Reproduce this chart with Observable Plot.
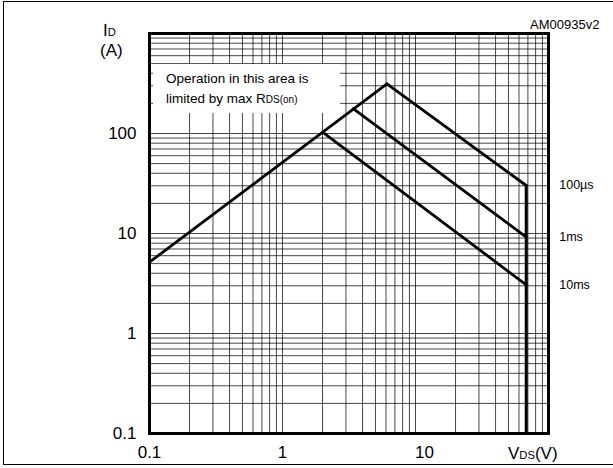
<!DOCTYPE html>
<html><head><meta charset="utf-8">
<script src="https://cdn.jsdelivr.net/npm/d3@7"></script>
<script src="https://cdn.jsdelivr.net/npm/@observablehq/plot@0.6"></script>
<style>
body{margin:0;background:#fff;font-family:"Liberation Sans",Arial,sans-serif;}
#wrap{position:relative;width:613px;height:468px;overflow:hidden;background:#fff;}
#chart{position:absolute;left:0;top:0;}
#border{position:absolute;left:3px;top:1px;width:660px;height:464px;border:1.5px solid #000;box-sizing:border-box;pointer-events:none;}
.lbl{position:absolute;color:#000;white-space:nowrap;line-height:1;}
.sm{font-size:0.66em;}
#note{position:absolute;left:153px;top:64px;width:187px;height:49px;background:#fff;font-size:13.5px;line-height:20px;padding:5px 0 0 13px;box-sizing:border-box;white-space:nowrap;}
</style></head><body>
<div id="wrap">
  <div id="chart"></div>
  <div id="note">Operation in this area is<br>limited by max R<span style="font-size:10px">DS(on)</span></div>
  <div class="lbl" style="left:103px;top:22px;font-size:17px">I<span class="sm">D</span></div>
  <div class="lbl" style="left:100px;top:42px;font-size:17px">(A)</div>
  <div class="lbl" style="left:530px;top:18px;font-size:13px">AM00935v2</div>
  <div class="lbl" style="left:508px;top:445px;font-size:17px">V<span class="sm">DS</span>(V)</div>
  <div id="border"></div>
</div>
<script>
// Safe operating area data
const seriesNames = ["100µs", "1ms", "10ms"];
const peakVds = [6.1, 3.4, 2.0];      // V, corner where RDS(on) limit meets power limit
const peakId = [314, 177, 103];       // A
const vdss = 68;                      // V, breakdown limit (vertical line)
const endId = [30.2, 9.2, 3.07];      // A at vdss
const limitVds = [0.1, 6.1];          // RDS(on) limit line
const limitId = [5.17, 314];
const vdssLineId = [30.2, 0.1];

const yTickValues = [0.1, 1, 10, 100];
const yTickLabels = ["0.1", "1", "10", "100"];
const xTickValues = [0.1, 1, 10];
const xTickLabels = ["0.1", "1", "10"];

// log grid (1..9 per decade)
const xGrid = [], yGrid = [];
for (let e = -1; e <= 1; e++) for (let m = 1; m <= 9; m++) xGrid.push(+(m * 10 ** e).toPrecision(3));
xGrid.push(100);
for (let e = -1; e <= 2; e++) for (let m = 1; m <= 9; m++) yGrid.push(+(m * 10 ** e).toPrecision(3));
yGrid.push(1000);

const limitTable = limitVds.map((v, i) => ({vds: v, id: limitId[i]}));
const descTable = seriesNames.flatMap((s, i) => [
  {series: s, vds: peakVds[i], id: peakId[i]},
  {series: s, vds: vdss, id: endId[i]}
]);
const vdssTable = vdssLineId.map(id => ({vds: vdss, id}));
const labelTable = seriesNames.map((s, i) => ({series: s, vds: vdss, id: endId[i]}));

const yFmt = new Map(yTickValues.map((v, i) => [v, yTickLabels[i]]));
const xFmt = new Map(xTickValues.map((v, i) => [v, xTickLabels[i]]));

const font = '"Liberation Sans", Arial, sans-serif';
const chart = Plot.plot({
  width: 613, height: 468,
  marginLeft: 149, marginRight: 65, marginTop: 33, marginBottom: 35,
  x: {type: "log", domain: [0.1, 100]},
  y: {type: "log", domain: [0.1, 1000]},
  style: {fontFamily: font, color: "#000", background: "transparent", overflow: "visible"},
  marks: [
    Plot.ruleX(xGrid, {stroke: "#000", strokeOpacity: 0.72, strokeWidth: 1}),
    Plot.ruleY(yGrid, {stroke: "#000", strokeOpacity: 0.72, strokeWidth: 1}),
    Plot.line(limitTable, {x: "vds", y: "id", stroke: "#000", strokeWidth: 2.8}),
    Plot.line(descTable, {x: "vds", y: "id", z: "series", stroke: "#000", strokeWidth: 2.8}),
    Plot.line(vdssTable, {x: "vds", y: "id", stroke: "#000", strokeWidth: 3}),
    Plot.frame({stroke: "#000", strokeWidth: 3}),
    Plot.axisY(yTickValues, {tickSize: 0, tickPadding: 13, fontSize: 17, tickFormat: d => yFmt.get(d), label: null}),
    Plot.axisX(xTickValues.slice(0, 2), {tickSize: 0, tickPadding: 12, fontSize: 17, tickFormat: d => xFmt.get(d), label: null}),
    Plot.axisX(xTickValues.slice(2), {tickSize: 0, tickPadding: 12, fontSize: 17, dx: 9, tickFormat: d => xFmt.get(d), label: null}),
    Plot.text(labelTable, {x: "vds", y: "id", text: "series", textAnchor: "start", dx: 33, fontSize: 12.5, fill: "#000"})
  ]
});
document.getElementById("chart").appendChild(chart);
</script>
</body></html>
